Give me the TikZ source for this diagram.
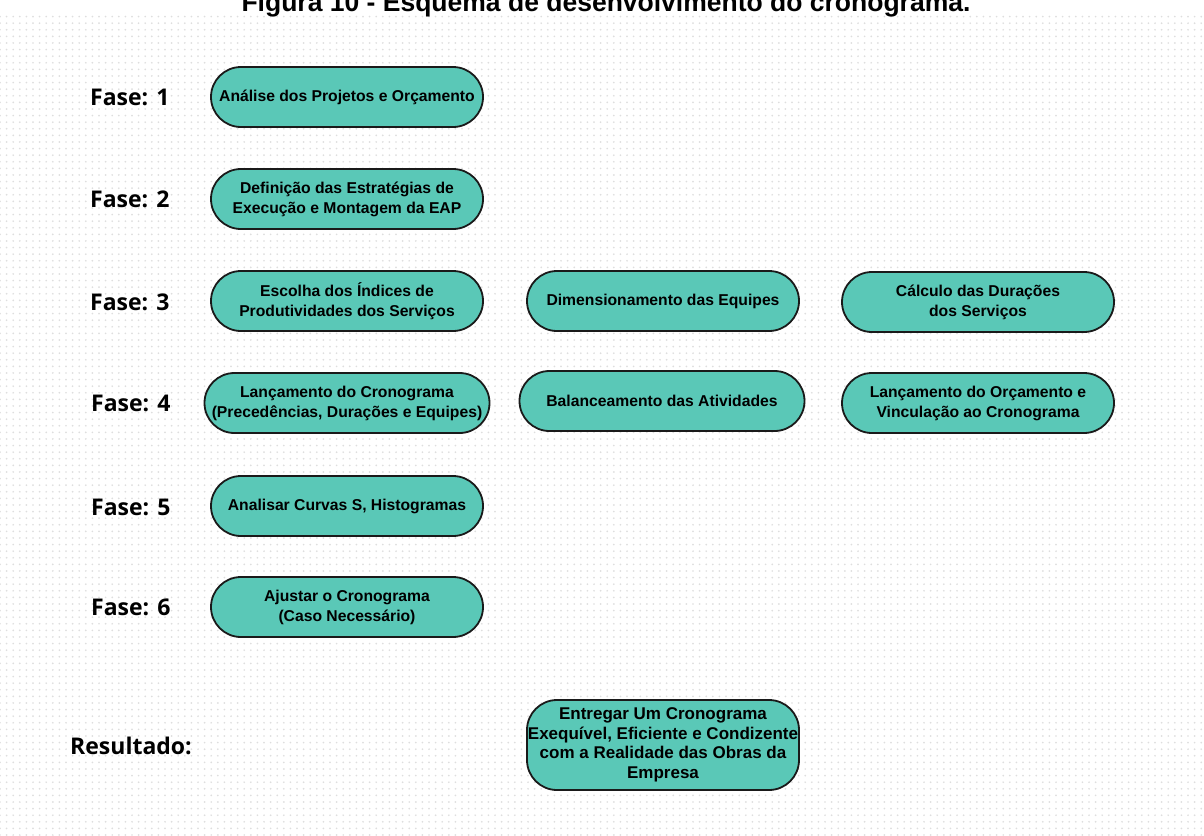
\documentclass[tikz,border=0pt]{standalone}
\usepackage{fontspec}
\setmainfont{Liberation Sans}
\newfontfamily\labelfont{Open Sans}
\usetikzlibrary{patterns}

\definecolor{boxfill}{HTML}{5AC8B7}
\definecolor{boxline}{HTML}{1A1A1A}
\definecolor{dotgray}{HTML}{DEDEDE}

% light dot grid used as the page background
\pgfdeclarepatternformonly{bgdots}{\pgfqpoint{-1pt}{-1pt}}{\pgfqpoint{1pt}{1pt}}{\pgfqpoint{6.6pt}{6.6pt}}{%
  \pgfpathcircle{\pgfqpoint{0pt}{0pt}}{0.95pt}\pgfusepath{fill}}

\tikzset{
  phase/.style={anchor=west, inner sep=0pt, font=\labelfont\bfseries\fontsize{23}{26}\selectfont},
  stage/.style={draw=boxline, line width=1.8pt, fill=boxfill, rounded corners=30pt,
    minimum width=272pt, minimum height=60pt, align=center, inner sep=0pt,
    font=\bfseries\fontsize{15.7}{20}\selectfont},
  widestage/.style={stage, minimum width=285pt},
  resultbox/.style={stage, minimum height=90pt, rounded corners=30pt,
    font=\bfseries\fontsize{17}{19.5}\selectfont},
}

\begin{document}
\begin{tikzpicture}[x=1pt, y=-1pt]
  \useasboundingbox (0,0) rectangle (1204,835);
  \fill[white] (0,0) rectangle (1204,835);
  \fill[pattern=bgdots, pattern color=dotgray] (0,13) rectangle (1204,835);

  % caption, cut by the top edge
  \node[anchor=base, inner sep=0pt, font=\bfseries\fontsize{26.5}{30}\selectfont] (title) at (606,11.5)
    {Figura 10 - Esquema de desenvolvimento do cronograma.};

  % phase labels
  \node[phase] (f1) at (90,97)  {Fase: 1};
  \node[phase] (f2) at (90,199) {Fase: 2};
  \node[phase] (f3) at (90,302) {Fase: 3};
  \node[phase] (f4) at (91,403) {Fase: 4};
  \node[phase] (f5) at (91,507) {Fase: 5};
  \node[phase] (f6) at (91,607) {Fase: 6};
  \node[phase] (fr) at (70,746) {Resultado:};

  % stages
  \node[stage] (s1) at (347,97) {Análise dos Projetos e Orçamento};
  \node[stage] (s2) at (347,199) {Definição das Estratégias de\\Execução e Montagem da EAP};
  \node[stage] (s3a) at (347,301) {Escolha dos Índices de\\Produtividades dos Serviços};
  \node[stage] (s3b) at (663,301) {Dimensionamento das Equipes};
  \node[stage] (s3c) at (978,302) {Cálculo das Durações\\dos Serviços};
  \node[widestage] (s4a) at (347,403) {Lançamento do Cronograma\\(Precedências, Durações e Equipes)};
  \node[widestage] (s4b) at (662,401) {Balanceamento das Atividades};
  \node[stage] (s4c) at (978,403) {Lançamento do Orçamento e\\Vinculação ao Cronograma};
  \node[stage] (s5) at (347,506) {Analisar Curvas S, Histogramas};
  \node[stage] (s6) at (347,607) {Ajustar o Cronograma\\(Caso Necessário)};
  \node[resultbox] (res) at (663,745) {Entregar Um Cronograma\\Exequível, Eficiente e Condizente\\com a Realidade das Obras da\\Empresa};
\end{tikzpicture}
\end{document}
